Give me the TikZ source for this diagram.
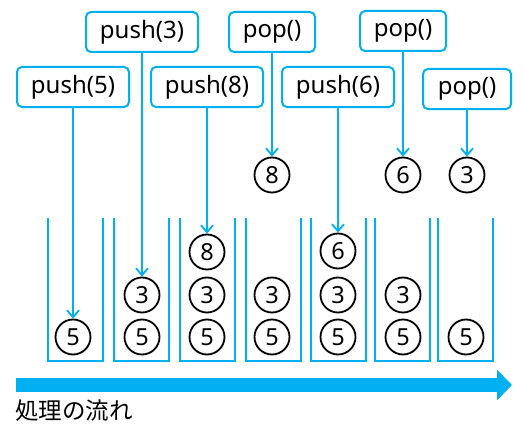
\documentclass[tikz,border=0pt]{standalone}
\usepackage{fontspec}
\setmainfont{Noto Sans}
\newfontfamily\jpfont{Noto Sans CJK JP}
\usetikzlibrary{arrows.meta}
\definecolor{stackblue}{HTML}{00B0F0}

\begin{document}
\begin{tikzpicture}
[x=1pt,y=-1pt,
op/.style={rectangle,rounded corners=5pt,draw=stackblue,line width=2pt,fill=white,minimum width=112pt,minimum height=40pt,inner sep=1pt,font=\fontsize{24}{28}\selectfont},
ball/.style={circle,draw=black,line width=1.8pt,minimum size=35pt,inner sep=0pt,font=\fontsize{23.5}{28}\selectfont},
cup/.style={draw=stackblue,line width=2.5pt},
flow/.style={draw=stackblue,line width=1.8pt,-{Straight Barb[length=7pt,width=12pt]}},
timeline/.style={draw=stackblue,line width=14pt,-{Triangle[length=15pt,width=30pt]}}]
\useasboundingbox (0,0) rectangle (525,428);

% operations
\node[op] (push5) at (73,87) {push(5)};
\node[op] (push3) at (142,32) {push(3)};
\node[op] (push8) at (207,87) {push(8)};
\node[op,minimum width=86pt] (pop8) at (272,32) {pop()};
\node[op] (push6) at (338,87) {push(6)};
\node[op,minimum width=86pt] (pop6) at (403,31) {pop()};
\node[op,minimum width=88pt] (pop3) at (467,89) {pop()};

% containers
\draw[cup] (48,218) -- (48,361) -- (103,361) -- (103,218);
\draw[cup] (114,218) -- (114,361) -- (169,361) -- (169,218);
\draw[cup] (180,218) -- (180,361) -- (235,361) -- (235,218);
\draw[cup] (246,218) -- (246,361) -- (301,361) -- (301,218);
\draw[cup] (311,218) -- (311,361) -- (366,361) -- (366,218);
\draw[cup] (375,218) -- (375,361) -- (430,361) -- (430,218);
\draw[cup] (438,218) -- (438,361) -- (493,361) -- (493,218);

% contents
\node[ball] (a5) at (73,337) {5};
\node[ball] (b5) at (142,337) {5};
\node[ball] (b3) at (142,295) {3};
\node[ball] (c5) at (207,337) {5};
\node[ball] (c3) at (207,295) {3};
\node[ball] (c8) at (207,252) {8};
\node[ball] (d5) at (272,337) {5};
\node[ball] (d3) at (272,295) {3};
\node[ball] (e5) at (338,337) {5};
\node[ball] (e3) at (338,295) {3};
\node[ball] (e6) at (338,251) {6};
\node[ball] (f5) at (403,337) {5};
\node[ball] (f3) at (403,295) {3};
\node[ball] (g5) at (466,337) {5};

% popped values
\node[ball] (out8) at (272,175) {8};
\node[ball] (out6) at (403,175) {6};
\node[ball] (out3) at (467,175) {3};

\draw[flow] (push5) -- (a5);
\draw[flow] (push3) -- (b3);
\draw[flow] (push8) -- (c8);
\draw[flow] (pop8) -- (out8);
\draw[flow] (push6) -- (e6);
\draw[flow] (pop6) -- (out6);
\draw[flow] (pop3) -- (out3);

% time axis
\coordinate (t0) at (16,385);
\coordinate (t1) at (512,385);
\draw[timeline] (t0) -- (t1);
\node[anchor=west,inner sep=0pt,font=\jpfont\fontsize{23.5}{28}\selectfont] (caption) at (15,411) {処理の流れ};

\end{tikzpicture}
\end{document}
